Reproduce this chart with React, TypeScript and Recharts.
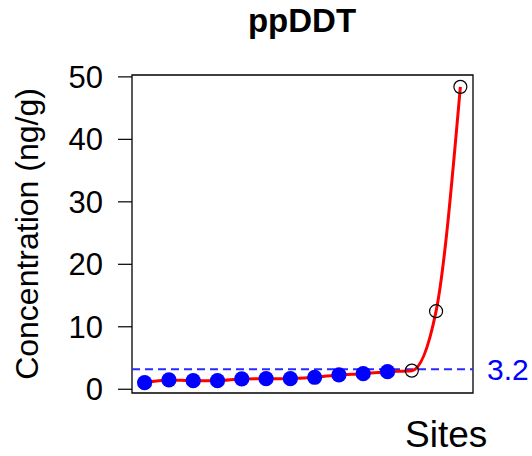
import React from 'react';
import { ComposedChart, Line, Scatter, XAxis, YAxis, ReferenceLine, ReferenceArea } from 'recharts';

const sites = [1, 2, 3, 4, 5, 6, 7, 8, 9, 10, 11, 12, 13, 14];
const ppDDT = [1.06, 1.49, 1.38, 1.38, 1.65, 1.7, 1.7, 1.92, 2.29, 2.5, 2.82, 2.98, 12.5, 48.4];
const isOutlier = [false, false, false, false, false, false, false, false, false, false, false, true, true, true];
const yTicks = [0, 10, 20, 30, 40, 50];
const threshold = 3.2;

const data = sites.map((s, i) => ({ site: s, value: ppDDT[i], outlier: isOutlier[i] }));

const FONT = '"Liberation Sans", Arial, sans-serif';

const PointShape = (props: any) => {
  const { cx, cy, payload } = props;
  if (payload.outlier) {
    return <circle cx={cx} cy={cy} r={6.5} fill="none" stroke="#000" strokeWidth={1.2} />;
  }
  return <circle cx={cx} cy={cy} r={7.6} fill="#0000ff" />;
};

export default function App() {
  return (
    <div style={{ position: 'absolute', left: 0, top: 0, width: 532, height: 456, background: '#fff', fontFamily: FONT }}>
      <ComposedChart
        width={532}
        height={456}
        data={data}
        margin={{ top: 75, right: 59, bottom: 63, left: 0 }}
      >
        <XAxis dataKey="site" type="number" domain={[0.48, 14.52]} hide allowDataOverflow />
        <YAxis
          type="number"
          width={132}
          domain={[-0.6, 50.3]}
          ticks={yTicks}
          allowDataOverflow
          axisLine={false}
          tickSize={14}
          tickMargin={15}
          tickLine={{ stroke: '#000', strokeWidth: 1.2 }}
          tick={{ fill: '#000', fontSize: 31, fontFamily: FONT }}
          label={{
            value: 'Concentration (ng/g)',
            angle: -90,
            position: 'insideLeft',
            offset: 27,
            style: { textAnchor: 'middle', fontSize: 32, fill: '#000', fontFamily: FONT },
          }}
        />
        <ReferenceArea x1={0.48} x2={14.52} y1={-0.6} y2={50.3} fill="none" stroke="#000" strokeWidth={1.3} />
        <ReferenceLine
          y={threshold}
          stroke="#2a2aff"
          strokeWidth={1.8}
          strokeDasharray="8 5"
          label={{ value: String(threshold), position: 'right', offset: 14, fill: '#0000ff', fontSize: 30, fontFamily: FONT }}
        />
        <Line type="monotone" dataKey="value" stroke="#ff0000" strokeWidth={3} dot={false} isAnimationActive={false} />
        <Scatter dataKey="value" shape={PointShape} isAnimationActive={false} />
      </ComposedChart>
      <svg width={532} height={456} style={{ position: 'absolute', left: 0, top: 0, pointerEvents: 'none' }}>
        <text x={302} y={32} textAnchor="middle" fontWeight="bold" fontSize={33} fontFamily={FONT} fill="#000">ppDDT</text>
        <text x={405} y={447} textAnchor="start" fontSize={37} fontFamily={FONT} fill="#000">Sites</text>
      </svg>
    </div>
  );
}
